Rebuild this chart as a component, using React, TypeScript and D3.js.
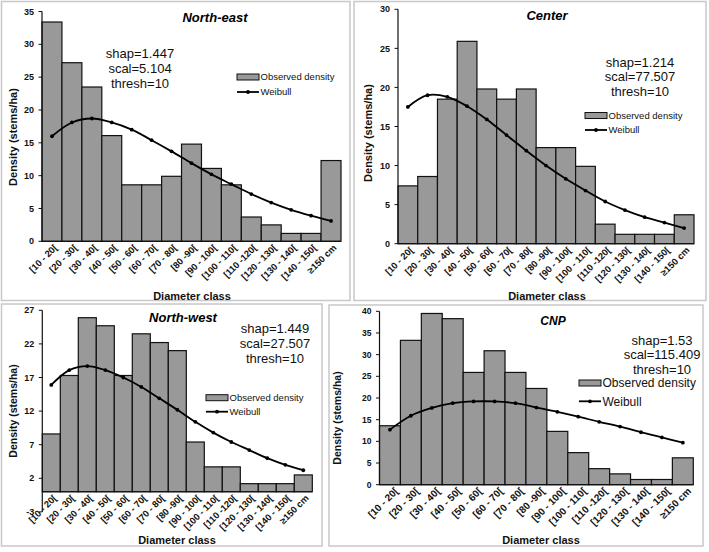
import React from "react";
import * as d3 from "d3";

const categories = ["[10 - 20[", "[20 - 30[", "[30 - 40[", "[40 - 50[", "[50 - 60[", "[60 - 70[", "[70 - 80[", "[80 -90[", "[90 - 100[", "[100 - 110[", "[110 -120[", "[120 - 130[", "[130 - 140[", "[140 - 150[", "≥150 cm"];

const neObserved = [33.4, 27.2, 23.5, 16.1, 8.6, 8.6, 9.9, 14.8, 11.1, 8.6, 3.7, 2.5, 1.2, 1.2, 12.3];
const neWeibull = [16.0, 18.1, 18.7, 18.1, 17.0, 15.4, 13.7, 11.9, 10.2, 8.7, 7.2, 5.9, 4.8, 3.9, 3.1];
const centerObserved = [7.4, 8.6, 18.5, 25.9, 19.8, 18.5, 19.8, 12.3, 12.3, 9.9, 2.5, 1.2, 1.2, 1.2, 3.7];
const centerWeibull = [17.5, 19.0, 18.8, 17.6, 15.9, 13.9, 11.9, 10.0, 8.3, 6.8, 5.4, 4.3, 3.4, 2.7, 2.0];
const nwObserved = [8.6, 17.3, 25.9, 24.7, 17.3, 23.5, 22.2, 21.0, 7.4, 3.7, 3.7, 1.2, 1.2, 1.2, 2.5];
const nwWeibull = [15.9, 18.1, 18.7, 18.1, 17.0, 15.6, 13.9, 12.2, 10.4, 8.8, 7.4, 6.2, 5.0, 4.0, 3.2];
const cnpObserved = [13.6, 33.3, 39.5, 38.3, 25.9, 30.9, 25.9, 22.2, 12.3, 7.4, 3.7, 2.5, 1.2, 1.2, 6.2];
const cnpWeibull = [12.7, 15.9, 17.7, 18.8, 19.2, 19.2, 18.8, 17.8, 16.8, 15.7, 14.5, 13.4, 12.1, 10.9, 9.7];

const neTicks = [0, 5, 10, 15, 20, 25, 30, 35];
const centerTicks = [0, 5, 10, 15, 20, 25, 30];
const nwTicks = [-3, 2, 7, 12, 17, 22, 27];
const cnpTicks = [0, 5, 10, 15, 20, 25, 30, 35, 40];

const neParams = ["shap=1.447", "scal=5.104", "thresh=10"];
const centerParams = ["shap=1.214", "scal=77.507", "thresh=10"];
const nwParams = ["shap=1.449", "scal=27.507", "thresh=10"];
const cnpParams = ["shap=1.53", "scal=115.409", "thresh=10"];

const FONT = "'Liberation Sans', Arial, Helvetica, sans-serif";

type PanelCfg = {
  title: string;
  params: string[];
  observed: number[];
  weibull: number[];
  ticks: number[];
  domain: [number, number];
  box: [number, number, number, number];
  plot: { left: number; right: number; top: number; bottom: number };
  titlePos: [number, number];
  titleSize: number;
  paramsPos: [number, number];
  paramsStep: number;
  paramsSize: number;
  legendPos: [number, number];
  legendStep: number;
  legendSize: number;
  swatchW: number;
  yLabelPos: [number, number];
  yLabelSize: number;
  xLabelPos: [number, number];
  xLabelSize: number;
  tickSize: number;
  xTickSize: number;
  xTickDx: number;
  xTickDy: number;
};

const panels: PanelCfg[] = [
  {
    title: "North-east", params: neParams, observed: neObserved, weibull: neWeibull, ticks: neTicks, domain: [0, 35],
    box: [1.5, 1.5, 348.5, 299], plot: { left: 42, right: 341, top: 11.5, bottom: 241.3 },
    titlePos: [215, 22], titleSize: 13, paramsPos: [140, 58], paramsStep: 15, paramsSize: 13,
    legendPos: [237, 77], legendStep: 15, legendSize: 9.5, swatchW: 22,
    yLabelPos: [13, 137], yLabelSize: 11, xLabelPos: [192, 300], xLabelSize: 11, tickSize: 9, xTickSize: 9.3,
    xTickDx: 6, xTickDy: 7,
  },
  {
    title: "Center", params: centerParams, observed: centerObserved, weibull: centerWeibull, ticks: centerTicks, domain: [0, 30],
    box: [354, 1.5, 352, 299], plot: { left: 398, right: 694, top: 9.3, bottom: 243.7 },
    titlePos: [547, 20], titleSize: 13, paramsPos: [640, 66.5], paramsStep: 14.5, paramsSize: 13,
    legendPos: [585, 115.5], legendStep: 14.5, legendSize: 9.5, swatchW: 22,
    yLabelPos: [368, 133], yLabelSize: 11, xLabelPos: [547, 300], xLabelSize: 11, tickSize: 9, xTickSize: 9.3,
    xTickDx: 6, xTickDy: 7,
  },
  {
    title: "North-west", params: nwParams, observed: nwObserved, weibull: nwWeibull, ticks: nwTicks, domain: [-3, 27],
    box: [1.5, 304, 320.5, 242], plot: { left: 42.3, right: 312.3, top: 310.3, bottom: 511.9 },
    titlePos: [183, 322], titleSize: 13, paramsPos: [275, 333], paramsStep: 15, paramsSize: 13,
    legendPos: [206, 397.7], legendStep: 14, legendSize: 9.5, swatchW: 22,
    yLabelPos: [13, 411], yLabelSize: 10.5, xLabelPos: [177, 544], xLabelSize: 11, tickSize: 9, xTickSize: 9.3,
    xTickDx: 6, xTickDy: 7,
  },
  {
    title: "CNP", params: cnpParams, observed: cnpObserved, weibull: cnpWeibull, ticks: cnpTicks, domain: [0, 40],
    box: [329, 305, 374, 241], plot: { left: 379.5, right: 693.3, top: 311.3, bottom: 484.7 },
    titlePos: [553, 325], titleSize: 12, paramsPos: [662, 344.7], paramsStep: 14.7, paramsSize: 13,
    legendPos: [579, 383], legendStep: 18.3, legendSize: 12, swatchW: 22,
    yLabelPos: [337, 418], yLabelSize: 10.5, xLabelPos: [541, 544], xLabelSize: 11, tickSize: 8.5, xTickSize: 10,
    xTickDx: 9, xTickDy: 7,
  },
];

function Panel({ cfg }: { cfg: PanelCfg }) {
  const { plot } = cfg;
  const x = d3.scaleBand<string>().domain(categories).range([plot.left, plot.right]).padding(0);
  const y = d3.scaleLinear().domain(cfg.domain).range([plot.bottom, plot.top]);
  const y0 = y(0);
  const cx = (i: number) => (x(categories[i]) as number) + x.bandwidth() / 2;
  const line = d3
    .line<number>()
    .x((_, i) => cx(i))
    .y((d) => y(d))
    .curve(d3.curveCatmullRom.alpha(0.5));
  const [lx, ly] = cfg.legendPos;
  return (
    <g>
      <rect x={cfg.box[0]} y={cfg.box[1]} width={cfg.box[2]} height={cfg.box[3]} fill="#fff" stroke="#c8c8c8" strokeWidth={1.5} />
      {cfg.observed.map((v, i) => (
        <rect
          key={i}
          x={x(categories[i]) as number}
          y={y(v)}
          width={x.bandwidth()}
          height={y0 - y(v)}
          fill="#999999"
          stroke="#111"
          strokeWidth={1.2}
        />
      ))}
      <line x1={plot.left} x2={plot.right} y1={y0} y2={y0} stroke="#111" strokeWidth={1.2} />
      <line x1={plot.left} x2={plot.left} y1={y(cfg.domain[0])} y2={y(cfg.domain[1])} stroke="#111" strokeWidth={1.2} />
      {cfg.ticks.map((t) => (
        <g key={t}>
          <line x1={plot.left - 3.5} x2={plot.left} y1={y(t)} y2={y(t)} stroke="#111" strokeWidth={1} />
          <text x={plot.left - 8} y={y(t)} dy="0.35em" textAnchor="end" fontSize={cfg.tickSize} fontWeight="bold" fill="#111">
            {t}
          </text>
        </g>
      ))}
      {categories.map((c, i) => (
        <text
          key={c}
          transform={`translate(${cx(i) + cfg.xTickDx},${y0 + cfg.xTickDy}) rotate(-45)`}
          textAnchor="end"
          fontSize={cfg.xTickSize}
          fontWeight="bold"
          fill="#111"
        >
          {c}
        </text>
      ))}
      <path d={line(cfg.weibull) || ""} fill="none" stroke="#000" strokeWidth={1.8} />
      {cfg.weibull.map((v, i) => (
        <circle key={i} cx={cx(i)} cy={y(v)} r={1.9} fill="#000" />
      ))}
      <text x={cfg.titlePos[0]} y={cfg.titlePos[1]} textAnchor="middle" fontSize={cfg.titleSize} fontWeight="bold" fontStyle="italic" fill="#000">
        {cfg.title}
      </text>
      {cfg.params.map((p, i) => (
        <text key={p} x={cfg.paramsPos[0]} y={cfg.paramsPos[1] + i * cfg.paramsStep} textAnchor="middle" fontSize={cfg.paramsSize} fill="#111">
          {p}
        </text>
      ))}
      <rect x={lx} y={ly - 3} width={cfg.swatchW} height={6} fill="#999999" stroke="#111" strokeWidth={1} />
      <text x={lx + cfg.swatchW + 1.5} y={ly} dy="0.35em" fontSize={cfg.legendSize} fill="#111">
        Observed density
      </text>
      <line x1={lx} x2={lx + cfg.swatchW} y1={ly + cfg.legendStep} y2={ly + cfg.legendStep} stroke="#000" strokeWidth={1.8} />
      <circle cx={lx + cfg.swatchW / 2} cy={ly + cfg.legendStep} r={1.9} fill="#000" />
      <text x={lx + cfg.swatchW + 1.5} y={ly + cfg.legendStep} dy="0.35em" fontSize={cfg.legendSize} fill="#111">
        Weibull
      </text>
      <text
        transform={`translate(${cfg.yLabelPos[0]},${cfg.yLabelPos[1]}) rotate(-90)`}
        textAnchor="middle"
        dy="0.35em"
        fontSize={cfg.yLabelSize}
        fontWeight="bold"
        fill="#111"
      >
        Density (stems/ha)
      </text>
      <text x={cfg.xLabelPos[0]} y={cfg.xLabelPos[1]} textAnchor="middle" fontSize={cfg.xLabelSize} fontWeight="bold" fill="#111">
        Diameter class
      </text>
    </g>
  );
}

export default function App() {
  return (
    <svg
      width={709}
      height={552}
      viewBox="0 0 709 552"
      style={{ position: "absolute", left: 0, top: 0, background: "#fff", fontFamily: FONT }}
    >
      <rect x={0} y={0} width={709} height={552} fill="#fff" />
      {panels.map((p) => (
        <Panel key={p.title} cfg={p} />
      ))}
    </svg>
  );
}
